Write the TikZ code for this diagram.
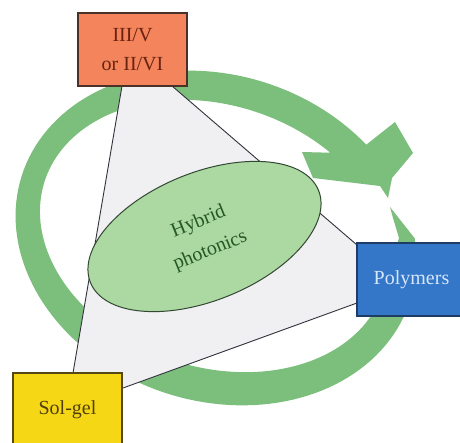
\documentclass[tikz,border=0pt]{standalone}
\usepackage{fontspec}
\setmainfont{Liberation Serif}
\usetikzlibrary{shapes.geometric}
\definecolor{ringgreen}{RGB}{124,190,124}
\definecolor{trifill}{RGB}{240,240,243}
\definecolor{edgecol}{RGB}{50,50,60}
\definecolor{orfill}{RGB}{244,132,92}
\definecolor{ordraw}{RGB}{75,50,40}
\definecolor{ortext}{RGB}{105,35,15}
\definecolor{blfill}{RGB}{52,118,200}
\definecolor{bldraw}{RGB}{30,60,100}
\definecolor{bltext}{RGB}{215,230,250}
\definecolor{yefill}{RGB}{245,215,22}
\definecolor{yedraw}{RGB}{85,72,20}
\definecolor{yetext}{RGB}{80,64,8}
\definecolor{elfill}{RGB}{172,216,162}
\definecolor{eldraw}{RGB}{50,72,50}
\definecolor{eltext}{RGB}{38,88,38}
\tikzset{
  matbox/.style={rectangle, minimum width=109pt, minimum height=73pt, inner sep=0pt, line width=1.5pt, align=center, font=\fontsize{20}{29}\selectfont},
  triedge/.style={draw=edgecol, line width=0.9pt},
}
\begin{document}
\begin{tikzpicture}[x=1pt,y=-1pt]
\useasboundingbox (0,0) rectangle (460,443);
\clip (0,0) rectangle (460,443);
\fill[white] (0,0) rectangle (460,443);
% circular arrow: outer and inner rotated ellipses, arrowhead at upper right
\fill[ringgreen] (390,207)
  -- plot[domain=-22:304, samples=140, variable=\t]
     ({216+204*cos(\t)*0.9511-163*sin(\t)*0.3090},{238+204*cos(\t)*0.3090+163*sin(\t)*0.9511})
  -- (395,122) -- (413,153) -- (392,178) -- (388,198) -- (380,186) -- (313,178) -- (302,152) -- (340,153)
  -- plot[domain=300:5, samples=140, variable=\t]
     ({214+178*cos(\t)*0.9511-131*sin(\t)*0.3090},{236+178*cos(\t)*0.3090+131*sin(\t)*0.9511})
  -- (399,238) -- (393,218) -- cycle;
% triangle
\coordinate (ta) at (122,86);
\coordinate (tb) at (172,86);
\coordinate (tc) at (357,245);
\coordinate (td) at (357,303);
\coordinate (te) at (123,388);
\coordinate (tf) at (123,373);
\coordinate (tg) at (73,373);
\fill[trifill] (ta) -- (tb) -- (tc) -- (td) -- (te) -- (tf) -- (tg) -- cycle;
\draw[triedge] (ta) -- (tg);
\draw[triedge] (tb) -- (tc);
\draw[triedge] (te) -- (td);
% ellipse
\node[ellipse, draw=eldraw, fill=elfill, line width=1pt, minimum width=246pt, minimum height=128pt, inner sep=0pt, rotate=22, align=center, text=eltext, font=\fontsize{20}{31}\selectfont] (hyb) at (204.5,236.5) {Hybrid\\photonics};
% boxes
\node[matbox, draw=ordraw, fill=orfill, text=ortext] (iii) at (132.5,49.5) {III/V\\or II/VI};
\node[matbox, draw=bldraw, fill=blfill, text=bltext] (poly) at (411.5,279.5) {Polymers};
\node[matbox, draw=yedraw, fill=yefill, text=yetext] (sol) at (67.5,409.5) {Sol-gel};
\end{tikzpicture}
\end{document}
